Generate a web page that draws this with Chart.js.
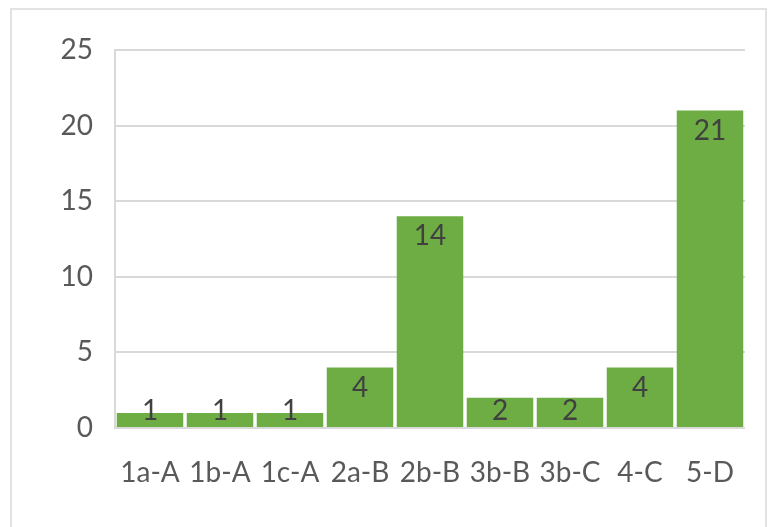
<!DOCTYPE html>
<html>
<head>
<meta charset="utf-8">
<script src="https://cdn.jsdelivr.net/npm/chart.js@4/dist/chart.umd.min.js"></script>
<style>
  html, body { margin: 0; padding: 0; background: #ffffff; overflow: hidden; }
  #wrap { position: relative; width: 776px; height: 527px; }
  #frame {
    position: absolute; left: 10px; top: 8px; width: 757px; height: 560px;
    border: 2px solid #e2e2e2; box-sizing: border-box;
  }
  canvas { position: absolute; left: 0; top: 0; }
</style>
</head>
<body>
<div id="wrap">
  <div id="frame"></div>
  <canvas id="chart" width="776" height="527"></canvas>
</div>
<script>
// Categories and counts per category
const categories = ['1a-A', '1b-A', '1c-A', '2a-B', '2b-B', '3b-B', '3b-C', '4-C', '5-D'];
const counts = [1, 1, 1, 4, 14, 2, 2, 4, 21];
const yTicks = [0, 5, 10, 15, 20, 25];

const FONT = 'Lato, "Open Sans", sans-serif';
const BAR_GREEN = '#6eac44';

// Value labels drawn inside the top end of each bar
const valueLabels = {
  id: 'valueLabels',
  afterDatasetsDraw(chart) {
    const ctx = chart.ctx;
    const meta = chart.getDatasetMeta(0);
    ctx.save();
    ctx.font = '28px ' + FONT;
    ctx.fillStyle = '#404040';
    ctx.textAlign = 'center';
    ctx.textBaseline = 'middle';
    meta.data.forEach((bar, i) => {
      const y = Math.min(bar.y + 20, bar.base - 16);
      ctx.fillText(String(counts[i]), bar.x, y);
    });
    ctx.restore();
  }
};

new Chart(document.getElementById('chart'), {
  type: 'bar',
  data: {
    labels: categories,
    datasets: [{
      data: counts,
      backgroundColor: BAR_GREEN,
      borderWidth: 0,
      barPercentage: 0.95,
      categoryPercentage: 1.0
    }]
  },
  options: {
    responsive: false,
    animation: false,
    devicePixelRatio: 1,
    layout: { padding: { left: 0, right: 31, top: 50, bottom: 0 } },
    plugins: { legend: { display: false }, tooltip: { enabled: false } },
    scales: {
      x: {
        grid: { display: false, drawTicks: false },
        border: { display: false },
        ticks: {
          color: '#595959',
          font: { family: FONT, size: 28 },
          padding: 28,
          maxRotation: 0,
          autoSkip: false
        },
        afterFit(scale) { scale.height = 99; }
      },
      y: {
        min: 0,
        max: 25,
        afterBuildTicks(scale) { scale.ticks = yTicks.map(v => ({ value: v })); },
        grid: { color: '#d9d9d9', lineWidth: 2, drawTicks: false },
        border: { display: true, color: '#d9d9d9', width: 2 },
        ticks: {
          color: '#595959',
          font: { family: FONT, size: 28 },
          padding: 22
        },
        afterFit(scale) { scale.width = 115; }
      }
    }
  },
  plugins: [valueLabels]
});
</script>
</body>
</html>
